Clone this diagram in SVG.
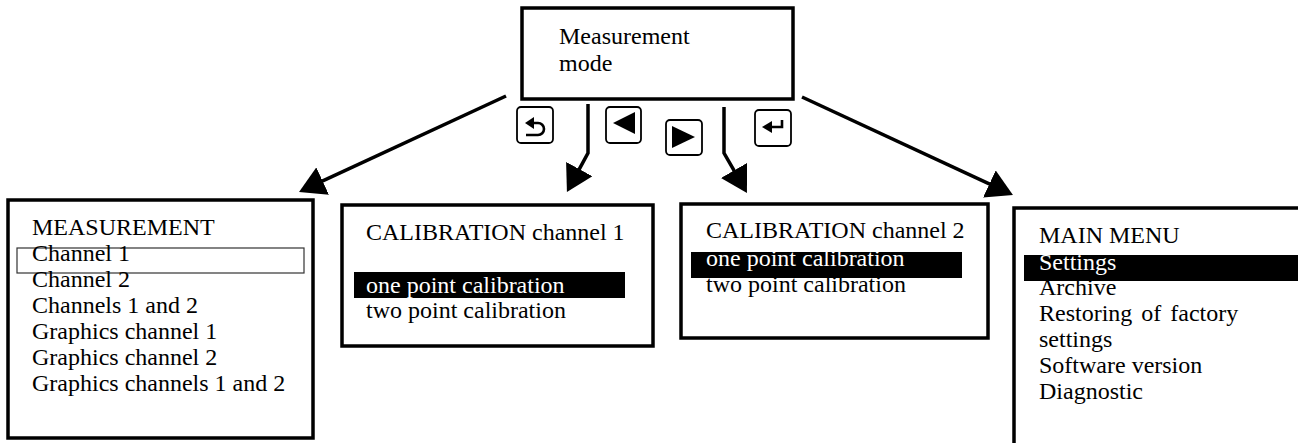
<svg xmlns="http://www.w3.org/2000/svg" width="1298" height="443" viewBox="0 0 1298 443">
  <style>
    .box { fill: #fff; stroke: #000; stroke-width: 3.5; }
    .txt { font-family: "Liberation Serif", "Times New Roman", serif; font-size: 24px; fill: #000; }
    .inv { fill: #fff; }
    .bar { fill: #000; }
    .sel { fill: none; stroke: #333; stroke-width: 1.2; }
    .key { fill: #fff; stroke: #000; stroke-width: 1.8; }
    .glyph { fill: #000; }
    .glyph-line { fill: none; stroke: #000; stroke-width: 2.6; }
    .conn { fill: none; stroke: #000; stroke-width: 3.5; marker-end: url(#head); }
  </style>
  <defs>
    <marker id="head" markerUnits="userSpaceOnUse" markerWidth="27" markerHeight="30" refX="4" refY="15" orient="auto">
      <path d="M0,0 L26,15 L0,30 Z" fill="#000"/>
    </marker>
  </defs>

  <rect width="1298" height="443" fill="#fff"/>

  <!-- connectors from the measurement mode screen -->
  <g id="connectors">
    <path class="conn" d="M506,96 L319,182.7"/>
    <path class="conn" d="M588,104 V153 L577.4,172.6"/>
    <path class="conn" d="M724,107 V153 L736,173.9"/>
    <path class="conn" d="M802,97 L993,185.7"/>
  </g>

  <!-- keypad buttons -->
  <g id="key-back">
    <rect class="key" x="517" y="107" width="36" height="36" rx="4"/>
    <path class="glyph" d="M525,123 L534,117 L534,129 Z"/>
    <path class="glyph-line" d="M533,123 H538 A6,6 0 0 1 538,135 H526"/>
  </g>
  <g id="key-left">
    <rect class="key" x="606" y="107" width="35" height="36" rx="4"/>
    <path class="glyph" d="M613,123 L635,112 L635,134 Z"/>
  </g>
  <g id="key-right">
    <rect class="key" x="666" y="120" width="36" height="35" rx="4"/>
    <path class="glyph" d="M695,137 L672,126 L672,148 Z"/>
  </g>
  <g id="key-enter">
    <rect class="key" x="755" y="110" width="36" height="36" rx="4"/>
    <path class="glyph" d="M762,127 L772,121 L772,133 Z"/>
    <path class="glyph-line" d="M770,127 H782 V120"/>
  </g>

  <!-- measurement mode screen -->
  <g id="node-mode">
    <rect class="box" x="522" y="8" width="271" height="91"/>
    <text class="txt" x="559" y="44">Measurement</text>
    <text class="txt" x="559" y="71">mode</text>
  </g>

  <!-- measurement menu -->
  <g id="node-measurement">
    <rect class="box" x="8" y="200" width="305" height="238"/>
    <rect class="sel" x="17" y="248" width="287" height="25"/>
    <text class="txt" x="32" y="235">MEASUREMENT</text>
    <text class="txt" x="32" y="261">Channel 1</text>
    <text class="txt" x="32" y="287">Channel 2</text>
    <text class="txt" x="32" y="313">Channels 1 and 2</text>
    <text class="txt" x="32" y="339">Graphics channel 1</text>
    <text class="txt" x="32" y="365">Graphics channel 2</text>
    <text class="txt" x="32" y="391">Graphics channels 1 and 2</text>
  </g>

  <!-- calibration channel 1 -->
  <g id="node-cal1">
    <rect class="box" x="342" y="205" width="311" height="141"/>
    <text class="txt" x="366" y="240">CALIBRATION channel 1</text>
    <rect class="bar" x="354" y="272" width="271" height="26"/>
    <text class="txt inv" x="366" y="293">one point calibration</text>
    <text class="txt" x="366" y="318">two point calibration</text>
  </g>

  <!-- calibration channel 2 -->
  <g id="node-cal2">
    <rect class="box" x="681" y="204" width="307" height="134"/>
    <text class="txt" x="706" y="238">CALIBRATION channel 2</text>
    <rect class="bar" x="691" y="252" width="271" height="26"/>
    <text class="txt inv" x="706" y="266">one point calibration</text>
    <text class="txt" x="706" y="292">two point calibration</text>
  </g>

  <!-- main menu -->
  <g id="node-main-menu">
    <rect class="box" x="1014" y="208" width="300" height="250"/>
    <text class="txt" x="1039" y="243">MAIN MENU</text>
    <rect class="bar" x="1024" y="255" width="280" height="26"/>
    <text class="txt inv" x="1039" y="270">Settings</text>
    <text class="txt" x="1039" y="295">Archive</text>
    <text class="txt" x="1039" y="321" word-spacing="3">Restoring of factory</text>
    <text class="txt" x="1039" y="347">settings</text>
    <text class="txt" x="1039" y="373">Software version</text>
    <text class="txt" x="1039" y="399">Diagnostic</text>
  </g>
</svg>
